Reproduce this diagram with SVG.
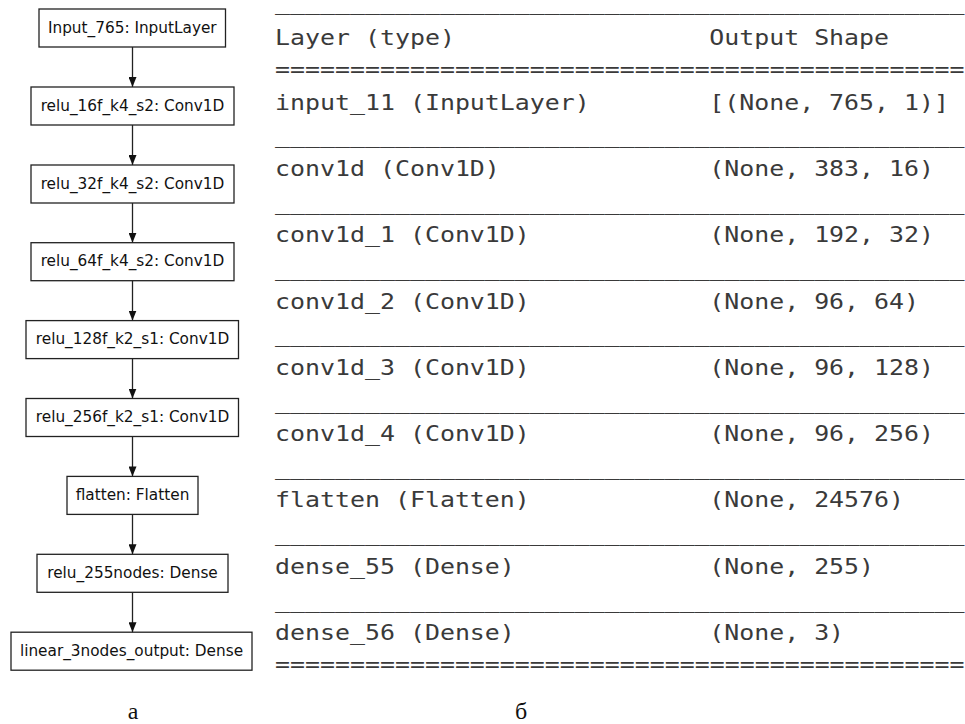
<svg xmlns="http://www.w3.org/2000/svg" width="965" height="724" viewBox="0 0 965 724">
  <style>
    .node rect { fill: #ffffff; stroke: #222222; stroke-width: 1.3; }
    .node text { font-family: "DejaVu Sans", sans-serif; font-size: 15.3px; fill: #111111; text-anchor: middle; }
    .edge { stroke: #222222; stroke-width: 1.3; fill: none; }
    .tbl text { font-family: "DejaVu Sans Mono", "Liberation Mono", monospace; font-size: 20.5px; fill: #3a3a3a; white-space: pre; }
    .cap { font-family: "Liberation Serif", "DejaVu Serif", serif; font-size: 24px; fill: #111111; text-anchor: middle; }
  </style>
  <defs>
    <marker id="arrowDown" viewBox="0 0 8 10" refX="4" refY="10" markerWidth="8" markerHeight="10" markerUnits="userSpaceOnUse" orient="0">
      <path d="M0,0 L8,0 L4,10 Z" fill="#111111"/>
    </marker>
  </defs>

  <!-- model graph (left) -->
  <g id="n-input" class="node"><rect x="39" y="9" width="186.5" height="38"/><text x="132.3" y="32.5">Input_765: InputLayer</text></g>
  <g id="n-conv16" class="node"><rect x="31" y="87" width="203" height="38"/><text x="132.5" y="110.5">relu_16f_k4_s2: Conv1D</text></g>
  <g id="n-conv32" class="node"><rect x="31" y="165" width="203" height="38"/><text x="132.5" y="188.5">relu_32f_k4_s2: Conv1D</text></g>
  <g id="n-conv64" class="node"><rect x="31" y="242.7" width="203" height="38"/><text x="132.5" y="266.2">relu_64f_k4_s2: Conv1D</text></g>
  <g id="n-conv128" class="node"><rect x="26" y="320.6" width="212.5" height="38"/><text x="132.5" y="344.1">relu_128f_k2_s1: Conv1D</text></g>
  <g id="n-conv256" class="node"><rect x="26" y="398.5" width="212.5" height="38"/><text x="132.5" y="422">relu_256f_k2_s1: Conv1D</text></g>
  <g id="n-flatten" class="node"><rect x="67" y="476.4" width="131" height="38"/><text x="132.5" y="499.9">flatten: Flatten</text></g>
  <g id="n-dense255" class="node"><rect x="37" y="554.3" width="191" height="38"/><text x="132.5" y="577.8">relu_255nodes: Dense</text></g>
  <g id="n-dense3" class="node"><rect x="11" y="632.2" width="241" height="38"/><text x="131.5" y="655.7">linear_3nodes_output: Dense</text></g>

  <g id="edges">
    <line class="edge" x1="132.5" y1="47" x2="132.5" y2="87" marker-end="url(#arrowDown)"/>
    <line class="edge" x1="132.5" y1="125" x2="132.5" y2="165" marker-end="url(#arrowDown)"/>
    <line class="edge" x1="132.5" y1="203" x2="132.5" y2="242.7" marker-end="url(#arrowDown)"/>
    <line class="edge" x1="132.5" y1="280.7" x2="132.5" y2="320.6" marker-end="url(#arrowDown)"/>
    <line class="edge" x1="132.5" y1="358.6" x2="132.5" y2="398.5" marker-end="url(#arrowDown)"/>
    <line class="edge" x1="132.5" y1="436.5" x2="132.5" y2="476.4" marker-end="url(#arrowDown)"/>
    <line class="edge" x1="132.5" y1="514.4" x2="132.5" y2="554.3" marker-end="url(#arrowDown)"/>
    <line class="edge" x1="132.5" y1="592.3" x2="132.5" y2="632.2" marker-end="url(#arrowDown)"/>
  </g>

  <!-- model summary table (right), monospace columns stretched to 15px per char -->
  <g class="tbl" transform="translate(275 0) scale(1.2156 1)">
    <text x="0" y="10">______________________________________________</text>
    <text x="0" y="45.5">Layer (type)</text>
    <text x="357.2" y="45.5">Output Shape</text>
    <text x="0" y="77">==============================================</text>
    <text x="0" y="110">input_11 (InputLayer)</text>
    <text x="357.2" y="110">[(None, 765, 1)]</text>
    <text x="0" y="143.5">______________________________________________</text>
    <text x="0" y="176">conv1d (Conv1D)</text>
    <text x="357.2" y="176">(None, 383, 16)</text>
    <text x="0" y="209.8">______________________________________________</text>
    <text x="0" y="242.3">conv1d_1 (Conv1D)</text>
    <text x="357.2" y="242.3">(None, 192, 32)</text>
    <text x="0" y="276.1">______________________________________________</text>
    <text x="0" y="308.6">conv1d_2 (Conv1D)</text>
    <text x="357.2" y="308.6">(None, 96, 64)</text>
    <text x="0" y="342.4">______________________________________________</text>
    <text x="0" y="374.9">conv1d_3 (Conv1D)</text>
    <text x="357.2" y="374.9">(None, 96, 128)</text>
    <text x="0" y="408.7">______________________________________________</text>
    <text x="0" y="441.2">conv1d_4 (Conv1D)</text>
    <text x="357.2" y="441.2">(None, 96, 256)</text>
    <text x="0" y="475">______________________________________________</text>
    <text x="0" y="507.5">flatten (Flatten)</text>
    <text x="357.2" y="507.5">(None, 24576)</text>
    <text x="0" y="541.3">______________________________________________</text>
    <text x="0" y="573.8">dense_55 (Dense)</text>
    <text x="357.2" y="573.8">(None, 255)</text>
    <text x="0" y="607.6">______________________________________________</text>
    <text x="0" y="640">dense_56 (Dense)</text>
    <text x="357.2" y="640">(None, 3)</text>
    <text x="0" y="672">==============================================</text>
  </g>

  <!-- panel captions -->
  <text class="cap" x="133" y="718.5">а</text>
  <text class="cap" x="521" y="718.5">б</text>
</svg>
